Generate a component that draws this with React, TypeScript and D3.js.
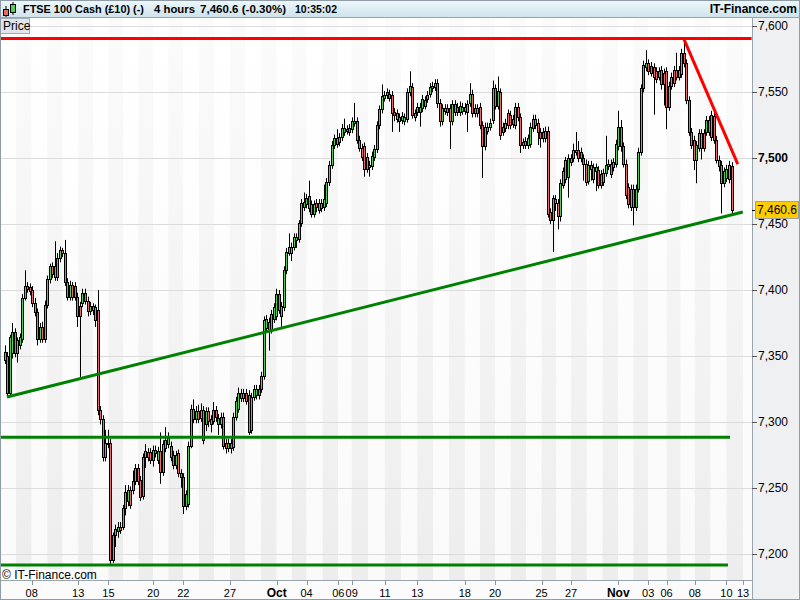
import React from 'react';
import * as d3 from 'd3';

// [open, high, low, close] for each 4-hour bar
const candles: [number, number, number, number][] = [
  [7347,7358,7344,7353],[7350,7353,7319,7322],[7322,7366,7320,7364],[7352,7375,7348,7368],[7368,7371,7349,7352],
  [7352,7364,7345,7362],[7358,7367,7355,7364],[7363,7397,7360,7394],[7394,7415,7392,7403],[7403,7406,7398,7401],
  [7402,7405,7396,7399],[7400,7403,7387,7390],[7390,7394,7380,7383],[7383,7386,7358,7363],[7363,7375,7360,7372],
  [7372,7376,7360,7363],[7363,7392,7360,7389],[7389,7411,7386,7408],[7408,7420,7405,7418],[7418,7421,7409,7412],
  [7410,7437,7407,7418],[7410,7428,7407,7424],[7424,7433,7421,7430],[7430,7432,7425,7428],[7428,7438,7403,7406],
  [7406,7409,7392,7395],[7395,7407,7392,7404],[7404,7406,7392,7395],[7403,7406,7392,7395],[7395,7398,7372,7380],
  [7388,7391,7334,7380],[7390,7401,7387,7398],[7398,7401,7389,7392],[7392,7395,7380,7384],[7384,7391,7381,7388],
  [7388,7390,7381,7385],[7377,7389,7372,7387],[7385,7400,7305,7309],[7309,7312,7298,7302],[7302,7305,7270,7273],
  [7273,7294,7270,7284],[7284,7294,7280,7283],[7284,7287,7192,7195],[7195,7216,7193,7214],[7214,7222,7205,7219],
  [7217,7224,7212,7220],[7220,7224,7215,7218],[7220,7237,7218,7235],[7235,7252,7229,7247],[7240,7252,7236,7248],
  [7248,7251,7234,7237],[7248,7263,7245,7255],[7255,7268,7252,7265],[7265,7268,7252,7255],[7256,7259,7240,7243],
  [7244,7276,7241,7273],[7273,7283,7265,7278],[7277,7280,7270,7273],[7277,7280,7268,7271],[7271,7282,7266,7279],
  [7279,7282,7273,7276],[7271,7281,7268,7278],[7278,7292,7253,7262],[7262,7286,7259,7283],[7280,7296,7277,7286],
  [7283,7292,7280,7288],[7282,7285,7270,7273],[7275,7278,7264,7267],[7267,7278,7264,7275],[7276,7279,7258,7261],
  [7261,7264,7250,7258],[7258,7261,7230,7236],[7236,7248,7233,7245],[7238,7285,7235,7282],[7282,7313,7280,7310],
  [7310,7317,7299,7302],[7302,7312,7299,7308],[7308,7313,7299,7302],[7303,7314,7300,7309],[7309,7312,7283,7286],
  [7298,7311,7293,7308],[7308,7311,7296,7301],[7302,7305,7292,7298],[7301,7315,7298,7309],[7309,7312,7300,7304],
  [7298,7306,7290,7303],[7298,7307,7295,7304],[7304,7307,7279,7282],[7284,7287,7276,7280],[7280,7287,7277,7284],
  [7284,7287,7276,7280],[7281,7307,7278,7304],[7304,7319,7301,7316],[7310,7326,7307,7322],[7322,7325,7315,7318],
  [7318,7325,7315,7322],[7322,7325,7313,7316],[7320,7324,7290,7292],[7294,7322,7291,7319],[7319,7328,7316,7325],
  [7320,7328,7317,7325],[7325,7328,7317,7320],[7325,7338,7322,7335],[7335,7380,7332,7377],[7371,7381,7368,7378],
  [7376,7379,7354,7370],[7370,7385,7367,7382],[7378,7390,7375,7387],[7380,7401,7377,7397],[7397,7400,7382,7385],
  [7388,7391,7372,7380],[7387,7418,7384,7415],[7415,7432,7412,7429],[7428,7443,7426,7433],[7428,7436,7422,7433],
  [7433,7443,7430,7440],[7438,7443,7432,7440],[7439,7453,7436,7451],[7451,7469,7448,7466],[7463,7474,7460,7467],
  [7465,7473,7462,7470],[7471,7483,7459,7462],[7465,7468,7455,7458],[7458,7468,7455,7465],[7466,7469,7459,7463],
  [7461,7469,7458,7466],[7462,7469,7459,7466],[7463,7480,7460,7469],[7466,7485,7463,7482],[7482,7498,7479,7495],
  [7495,7513,7492,7510],[7510,7518,7507,7515],[7511,7522,7508,7515],[7512,7519,7509,7516],[7516,7526,7513,7523],
  [7520,7530,7517,7523],[7522,7525,7518,7521],[7523,7526,7517,7520],[7522,7531,7519,7528],[7527,7542,7524,7528],
  [7528,7531,7511,7514],[7514,7517,7505,7508],[7508,7511,7498,7501],[7509,7512,7486,7492],[7501,7504,7489,7492],
  [7493,7498,7486,7495],[7494,7505,7491,7502],[7501,7510,7498,7507],[7507,7528,7504,7525],[7525,7540,7522,7537],
  [7537,7556,7534,7547],[7546,7551,7543,7548],[7550,7553,7545,7548],[7549,7552,7543,7546],[7548,7551,7520,7534],
  [7535,7538,7528,7533],[7530,7537,7527,7534],[7528,7534,7520,7531],[7529,7535,7526,7532],[7528,7534,7525,7531],
  [7530,7553,7527,7550],[7550,7566,7547,7555],[7554,7557,7530,7533],[7531,7537,7528,7534],[7535,7542,7532,7539],
  [7535,7542,7524,7539],[7538,7548,7535,7545],[7540,7547,7537,7544],[7545,7551,7542,7548],[7549,7557,7546,7554],
  [7553,7558,7550,7555],[7554,7560,7551,7557],[7557,7560,7538,7542],[7542,7545,7524,7528],[7528,7541,7525,7538],
  [7536,7541,7533,7538],[7538,7541,7532,7535],[7538,7541,7507,7528],[7528,7544,7525,7541],[7535,7544,7532,7541],
  [7539,7542,7532,7535],[7535,7543,7532,7540],[7536,7542,7533,7539],[7539,7542,7533,7536],[7535,7544,7520,7541],
  [7542,7557,7539,7549],[7549,7552,7531,7534],[7538,7541,7531,7534],[7534,7541,7531,7538],[7539,7542,7522,7525],
  [7525,7528,7485,7509],[7509,7527,7506,7524],[7521,7527,7518,7524],[7524,7530,7521,7527],[7529,7559,7526,7553],
  [7553,7556,7537,7540],[7540,7562,7537,7551],[7550,7553,7514,7518],[7520,7527,7517,7524],[7523,7530,7520,7527],
  [7534,7537,7522,7525],[7533,7536,7522,7525],[7530,7533,7523,7526],[7525,7542,7522,7539],[7539,7542,7528,7531],
  [7531,7534,7504,7510],[7512,7515,7507,7510],[7510,7516,7507,7513],[7510,7518,7507,7515],[7511,7527,7508,7524],
  [7523,7533,7520,7530],[7530,7533,7522,7525],[7527,7530,7510,7520],[7520,7523,7508,7515],[7520,7523,7512,7515],
  [7515,7524,7512,7521],[7521,7524,7455,7458],[7459,7462,7450,7453],[7453,7472,7429,7470],[7469,7472,7460,7466],
  [7466,7469,7446,7456],[7456,7484,7452,7481],[7480,7493,7477,7490],[7484,7501,7481,7499],[7486,7503,7470,7500],
  [7497,7503,7494,7500],[7500,7511,7497,7506],[7505,7520,7502,7506],[7506,7513,7497,7500],[7505,7508,7497,7500],
  [7500,7503,7483,7496],[7496,7499,7479,7482],[7483,7498,7480,7495],[7495,7498,7483,7492],[7484,7496,7481,7493],
  [7490,7496,7475,7493],[7491,7494,7477,7480],[7488,7491,7477,7480],[7482,7492,7479,7489],[7489,7517,7486,7495],
  [7494,7499,7491,7496],[7496,7499,7485,7488],[7493,7500,7490,7497],[7496,7514,7493,7511],[7509,7536,7506,7524],
  [7524,7529,7505,7509],[7509,7512,7493,7496],[7496,7499,7469,7472],[7478,7481,7462,7465],[7463,7480,7460,7477],
  [7477,7480,7449,7463],[7463,7480,7460,7477],[7477,7508,7474,7505],[7505,7556,7502,7553],[7553,7574,7550,7571],
  [7569,7582,7566,7572],[7572,7575,7563,7566],[7570,7573,7562,7565],[7569,7572,7533,7562],[7566,7569,7557,7560],
  [7562,7569,7559,7566],[7567,7570,7552,7556],[7565,7568,7540,7556],[7566,7569,7522,7539],[7539,7558,7536,7555],
  [7555,7565,7552,7562],[7567,7570,7554,7557],[7567,7580,7559,7562],[7562,7570,7559,7567],[7564,7583,7561,7580],
  [7580,7591,7569,7572],[7572,7575,7541,7544],[7544,7547,7517,7520],[7520,7523,7507,7510],[7514,7517,7491,7499],
  [7499,7513,7481,7510],[7508,7522,7505,7519],[7508,7522,7499,7519],[7519,7522,7505,7508],[7520,7532,7517,7529],
  [7529,7532,7517,7520],[7516,7536,7513,7533],[7532,7535,7511,7514],[7514,7517,7496,7499],[7499,7502,7490,7494],
  [7495,7498,7458,7481],[7481,7493,7478,7490],[7485,7495,7482,7492],[7484,7498,7481,7495],[7494,7497,7457,7460.6],
];

const yTicks = [7200, 7250, 7300, 7350, 7400, 7450, 7500, 7550, 7600];
const boldTicks = [7500];

// day start positions (in bar units) and their axis labels ('' = unlabeled)
const dayStarts: number[] = [
  -3, 4.6, 10.8, 17.0, 23.1, 29.3, 35.3, 41.3, 47.2, 53.2, 59.1, 65.1, 71.1, 77.3, 83.4, 89.6, 95.8, 102.0,
  108.2, 114.2, 120.1, 126.4, 132.7, 138.0, 144.6, 151.2, 157.6, 164.1, 170.4, 176.7, 183.0, 189.0, 195.0,
  201.2, 207.4, 213.5, 219.4, 225.2, 231.5, 237.7, 244.0, 250.0, 255.9, 263.2, 268.8, 274.4, 280.7, 287.0, 293.6, 300,
];
const dayLabels: string[] = [
  '', '', '08', '', '', '13', '', '15', '', '', '20', '', '22', '', '', '27', '', '',
  'Oct', '', '04', '', '06', '09', '', '11', '', '13', '', '', '18', '', '20',
  '', '', '25', '', '27', '', '', 'Nov', '', '03', '06', '', '08', '', '10', '13', '',
];
const boldLabels = ['Oct', 'Nov'];

const lastPrice = 7460.6;

// header texts: [text, x start, width]
const headerTexts: [string, number, number][] = [
  ['FTSE 100 Cash (£10) (-)', 23, 121],
  ['4 hours', 154, 41],
  ['7,460.6 (-0.30%)', 200, 86],
  ['10:35:02', 295, 42],
];

// drawn trend lines: [barStart, priceStart, barEnd, priceEnd]
const redLines: [number, number, number, number][] = [
  [-3, 7590.8, 297, 7590.8],
  [270, 7590.8, 291.5, 7495.6],
];
const greenLines: [number, number, number, number][] = [
  [1, 7318.8, 293.5, 7459.2],
  [-3, 7288.4, 288.4, 7288.4],
  [-3, 7191.4, 287.6, 7191.4],
];

const PL = 1, PR = 752, PT = 18, PB = 580;
const FONT = '"Liberation Sans", Arial, sans-serif';

export default function App() {
  const x = d3.scaleLinear().domain([0, candles.length - 1]).range([4.5, 731.5]);
  const y = d3.scaleLinear().domain([7180, 7606.4]).range([PB, PT]);
  const fmt = d3.format(',');

  return (
    <svg width={800} height={600} style={{ display: 'block', position: 'absolute', left: 0, top: 0 }} fontFamily={FONT}>
      <defs>
        <linearGradient id="hdr" x1="0" y1="0" x2="0" y2="1">
          <stop offset="0" stopColor="#eef8fc" />
          <stop offset="1" stopColor="#cde2ec" />
        </linearGradient>
        <linearGradient id="bandG" x1="0" y1="0" x2="0" y2="1">
          <stop offset="0" stopColor="#fbfbfb" />
          <stop offset="1" stopColor="#ededed" />
        </linearGradient>
        <linearGradient id="bandW" x1="0" y1="0" x2="0" y2="1">
          <stop offset="0" stopColor="#ffffff" />
          <stop offset="1" stopColor="#fafafa" />
        </linearGradient>
        <clipPath id="plot">
          <rect x={PL} y={PT} width={PR - PL} height={PB - PT} />
        </clipPath>
      </defs>
      <rect x={0} y={0} width={800} height={600} fill="#eef0f2" />
      {/* plot background & day bands */}
      <g clipPath="url(#plot)">
        <rect x={PL} y={PT} width={PR - PL} height={PB - PT} fill="#ffffff" />
        {dayStarts.slice(0, -1).map((d, k) => (
          <rect key={k} x={x(d)} y={PT} width={x(dayStarts[k + 1]) - x(d)} height={PB - PT}
            fill={k % 2 === 1 ? 'url(#bandG)' : 'url(#bandW)'} />
        ))}
        {yTicks.map(t => (
          <line key={t} x1={PL} x2={PR} y1={Math.round(y(t)) + 0.5} y2={Math.round(y(t)) + 0.5} stroke="#dcdcdc" strokeWidth={1} />
        ))}
        {candles.map(([o, h, l, c], i) => {
          const cx = Math.round(x(i)) + 0.5;
          const up = c >= o;
          const top = Math.round(y(Math.max(o, c))) + 0.5;
          const bot = Math.max(top + 1, Math.round(y(Math.min(o, c))) + 0.5);
          return (
            <g key={i}>
              <line x1={cx} x2={cx} y1={y(h)} y2={y(l)} stroke="#000" strokeWidth={1} />
              <rect x={cx - 1} y={top} width={2} height={bot - top} fill={up ? '#4fd04f' : '#e86a6a'} stroke="#000" strokeWidth={1} />
            </g>
          );
        })}
        {redLines.map(([a, p, b, q], k) => (
          <line key={'r' + k} x1={x(a)} y1={y(p)} x2={x(b)} y2={y(q)} stroke="#ff0000" strokeWidth={3} />
        ))}
        {greenLines.map(([a, p, b, q], k) => (
          <line key={'g' + k} x1={x(a)} y1={y(p)} x2={x(b)} y2={y(q)} stroke="#008000" strokeWidth={3} />
        ))}
        <rect x={PL} y={569} width={88} height={11} fill="#ffffff" opacity={0.7} />
        <text x={2} y={579} fontSize={12} fill="#000">© IT-Finance.com</text>
      </g>
      {/* bottom axis */}
      <rect x={PL} y={PB} width={PR - PL} height={600 - PB} fill="#fbfbfb" />
      <line x1={0} x2={PR} y1={PB + 0.5} y2={PB + 0.5} stroke="#98a4ae" />
      {dayLabels.map((lab, k) => lab ? (
        <g key={'t' + k}>
          <line x1={Math.round(x(dayStarts[k])) + 0.5} x2={Math.round(x(dayStarts[k])) + 0.5} y1={PB} y2={PB + 5} stroke="#8a96a0" />
          <text x={x(dayStarts[k])} y={597} fontSize={boldLabels.includes(lab) ? 12 : 11} textAnchor="middle" fontWeight={boldLabels.includes(lab) ? 'bold' : 'normal'} fill="#000">{lab}</text>
        </g>
      ) : null)}
      {/* right axis */}
      <line x1={PR + 0.5} x2={PR + 0.5} y1={PT} y2={600} stroke="#98a4ae" />
      {yTicks.map(t => (
        <g key={'y' + t}>
          <line x1={PR} x2={PR + 5} y1={Math.round(y(t)) + 0.5} y2={Math.round(y(t)) + 0.5} stroke="#555" />
          <text x={PR + 6} y={y(t) + 4} fontSize={12} fontWeight={boldTicks.includes(t) ? 'bold' : 'normal'} fill="#000">{fmt(t)}</text>
        </g>
      ))}
      <line x1={PR} x2={PR + 5} y1={Math.round(y(lastPrice)) + 0.5} y2={Math.round(y(lastPrice)) + 0.5} stroke="#000" />
      <rect x={PR + 3.5} y={Math.round(y(lastPrice)) - 8.5} width={43} height={17} fill="#ffcc00" stroke="#a0a0a0" />
      <text x={PR + 5} y={y(lastPrice) + 4} fontSize={12} fill="#000">{d3.format(',.1f')(lastPrice)}</text>
      {/* header */}
      <rect x={0} y={0} width={800} height={PT} fill="url(#hdr)" />
      <line x1={0} x2={800} y1={PT - 0.5} y2={PT - 0.5} stroke="#98a4ae" />
      <g>
        <line x1={6} x2={6} y1={6} y2={17} stroke="#000" />
        <rect x={3.5} y={9.5} width={5} height={6} fill="#e86a6a" stroke="#000" />
        <line x1={13} x2={13} y1={2} y2={15} stroke="#000" />
        <rect x={10.5} y={4.5} width={5} height={8} fill="#4fd04f" stroke="#000" />
      </g>
      {headerTexts.map(([t, hx, w]) => (
        <text key={t} x={hx} y={13} fontSize={11.5} fontWeight="bold" fill="#000" textLength={w} lengthAdjust="spacingAndGlyphs">{t}</text>
      ))}
      <text x={797} y={13} fontSize={12} fontWeight="bold" textAnchor="end" fill="#000">IT-Finance.com</text>
      {/* price tag */}
      <rect x={0.5} y={18.5} width={29} height={15} fill="#e2e5e8" stroke="#a4adb5" />
      <text x={3} y={30} fontSize={12} fill="#000">Price</text>
      <rect x={0.5} y={0.5} width={799} height={599} fill="none" stroke="#8f9ba5" />
    </svg>
  );
}
